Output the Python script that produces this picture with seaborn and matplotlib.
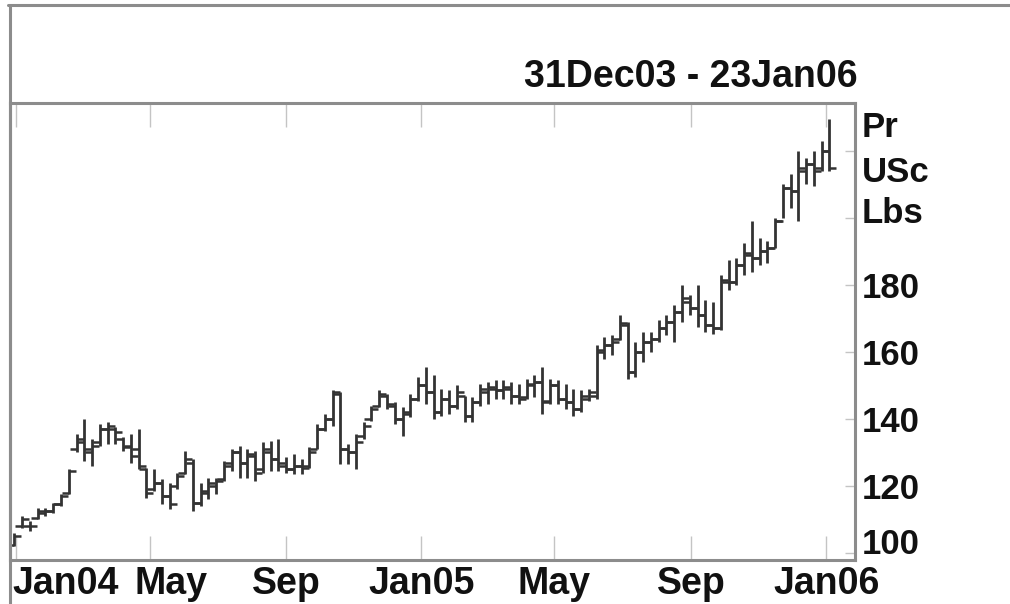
import pandas as pd
import matplotlib
matplotlib.use("Agg")
import matplotlib.pyplot as plt
import matplotlib.dates as mdates
from matplotlib.lines import Line2D
import matplotlib.markers as mmarkers
import seaborn as sns

# --- Datos semanales ---
fechas = pd.date_range("2003-12-31", periods=106, freq="7D")

maximos = [106, 111, 109.5, 113.5, 113.5, 115, 117.5, 125, 135.5, 140,
           134, 138.5, 139, 137.5, 134.5, 135.5, 137, 125.5, 125, 122,
           121, 124, 130.5, 128, 121, 122.5, 122.5, 127.5, 131, 132,
           131, 130.5, 133, 133.5, 134, 128.5, 129.5, 128, 131.5, 138.5,
           141.5, 148.5, 148, 132.5, 135.5, 139, 144, 148.5, 147.5, 145,
           143.5, 147.5, 152.5, 155.5, 153, 149, 148.5, 150, 147, 146.5,
           150.5, 151, 151.5, 151.5, 151, 150.5, 152, 153, 155.5, 152,
           151.5, 150.5, 149, 148.5, 149, 162, 164.5, 165, 171, 169,
           163, 166, 166, 169.5, 171, 174, 180, 177, 180, 175.5,
           175, 183, 187.5, 188, 192.5, 199, 194, 193, 200, 210,
           213, 220, 218, 220, 223, 229.5]
minimos = [102, 107.5, 106.5, 110, 111, 112, 114, 117.5, 130, 127.5,
           126, 132, 132.5, 132.5, 130.5, 127, 125, 116.5, 118.5, 114.5,
           113, 119, 123.5, 112.5, 114, 116, 117.5, 121.5, 124.5, 122.5,
           122.5, 121.5, 124, 124.5, 124.5, 124, 123.5, 123.5, 125.5, 131,
           136.5, 138, 126.5, 126.5, 125, 134, 139.5, 143.5, 143, 138.5,
           135, 140.5, 145.5, 144.5, 140, 141, 141.5, 143, 139, 139,
           144, 144.5, 146, 146, 144.5, 144.5, 146, 146.5, 141.5, 144.5,
           144.5, 143, 141, 142, 145.5, 146, 158, 159, 163.5, 152,
           152.5, 157, 160, 163, 165, 163, 169, 171, 167.5, 166,
           165.5, 166.5, 178.5, 180, 183, 184, 186, 186.5, 191, 200,
           203, 199, 210, 209.5, 214, 214]
aperturas = [102.5, 108, 108, 110.5, 112, 112.5, 114.5, 118, 131, 134,
             130, 133, 137, 137, 134, 132, 131, 125, 119, 121,
             117, 120, 124, 127, 115, 118, 120, 122, 127, 130,
             127, 129, 125, 130, 128, 126, 125, 126, 126, 131,
             137, 140, 147.5, 131, 130, 135, 140, 144, 147, 144,
             140, 142, 146, 150, 148, 142, 146, 144, 147, 141,
             145, 148, 149, 148.5, 149, 147, 146.5, 150, 151, 145.5,
             150, 146, 145, 143, 146, 147, 160, 162, 164, 168,
             154, 160, 163, 164, 167, 169, 172, 175, 173, 171,
             168, 167, 181, 181, 186, 189, 188, 190, 191, 199,
             209, 208, 214, 216, 215, 220]
cierres = [105, 110, 108, 112.5, 112.5, 114.5, 117, 124.5, 133, 131,
           132, 137, 138, 136, 131.5, 129, 126, 118, 121, 117,
           114.5, 123, 128, 115, 118.5, 121, 121.5, 126, 130, 127,
           129.5, 124, 131, 128, 127, 125, 126, 125.5, 130, 137,
           140, 148, 131, 130, 133, 138, 143, 147.5, 144.5, 140,
           141.5, 146, 150, 148, 142, 146, 144, 148, 141, 145,
           149, 149.5, 148.5, 149.5, 147, 146, 150.5, 151, 145, 150,
           146, 145, 143, 147, 148, 160.5, 162, 163, 168.5, 154,
           160, 163, 164, 167, 169, 172, 176, 173, 171, 168,
           167, 181.5, 181, 186, 189.5, 188, 190, 191, 199, 209,
           208, 215, 216, 214, 220, 215]

df = pd.DataFrame({"fecha": fechas, "max": maximos, "min": minimos,
                   "apertura": aperturas, "cierre": cierres})

meses_pos = pd.to_datetime(["2004-01-01", "2004-05-01", "2004-09-01", "2005-01-01",
                            "2005-05-01", "2005-09-01", "2006-01-01"])
meses_lab = ["Jan04", "May", "Sep", "Jan05", "May", "Sep", "Jan06"]
precios = [100, 120, 140, 160, 180, 200, 220]
precios_lab = ["100", "120", "140", "160", "180", "", ""]

# --- Estilo ---
sns.set_style("white")
plt.rcParams["font.family"] = ["Liberation Sans", "DejaVu Sans"]
plt.rcParams["font.weight"] = "bold"

gris = "#8c8c8c"
barra = "#333333"

fig = plt.figure(figsize=(10.1, 6.04), dpi=100)
ax = fig.add_axes([0.0099, 0.0728, 0.8366, 0.7567])

# --- Barras OHLC ---
ax.vlines(df["fecha"], df["min"], df["max"], color=barra, linewidth=2.0)
sns.scatterplot(data=df, x="fecha", y="apertura", marker=mmarkers.TICKLEFT,
                s=25, color=barra, linewidth=1.8, ax=ax, legend=False)
sns.scatterplot(data=df, x="fecha", y="cierre", marker=mmarkers.TICKRIGHT,
                s=25, color=barra, linewidth=1.8, ax=ax, legend=False)

ax.set_xlim(pd.Timestamp("2003-12-27"), pd.Timestamp("2006-01-27"))
ax.set_ylim(97.9, 234.3)
ax.set_xlabel("")
ax.set_ylabel("")

for s in ax.spines.values():
    s.set_color(gris)
    s.set_linewidth(2.2)

ax.set_xticks(meses_pos)
ax.tick_params(axis="x", direction="in", top=True, bottom=True, length=17,
               width=1, color="#c4c4c4", labelbottom=False)
ax.yaxis.tick_right()
ax.set_yticks(precios)
ax.set_yticklabels([""] + precios_lab[1:])
ax.tick_params(axis="y", direction="in", right=True, left=False, length=7,
               width=1, color="#c4c4c4", pad=5, labelsize=25, labelcolor="#111111")

# la etiqueta 100 va algo mas arriba que su marca
ax.annotate(precios_lab[0], xy=(1, precios[0]), xycoords=ax.get_yaxis_transform(),
            xytext=(5, 6), textcoords="offset points", ha="left", va="center",
            fontsize=25, color="#111111")

# etiquetas de meses
for i, (fx, lab) in enumerate(zip(meses_pos, meses_lab)):
    dx, ha = 0, "center"
    if i == 0:
        dx, ha = -2, "left"
    elif i == 1:
        dx = 15
    ax.annotate(lab, xy=(mdates.date2num(fx), 0), xycoords=ax.get_xaxis_transform(),
                xytext=(dx, -17), textcoords="offset points",
                ha=ha, va="center", fontsize=27, color="#111111")

# unidades
for lab, yv in [("Pr", 226.9), ("USc", 213.7), ("Lbs", 201.2)]:
    ax.text(1.008, yv, lab, transform=ax.get_yaxis_transform(),
            ha="left", va="center", fontsize=25, color="#111111")

# rango de fechas
fig.text(0.849, 0.8725, "31Dec03 - 23Jan06", ha="right", va="center",
         fontsize=27, color="#111111")

# marco exterior
fig.add_artist(Line2D([0.008, 1.0], [0.9917, 0.9917], transform=fig.transFigure,
                      color=gris, linewidth=2.2))
fig.add_artist(Line2D([0.0099, 0.0099], [0.0, 0.9917], transform=fig.transFigure,
                      color=gris, linewidth=2.2))

plt.savefig("out.png", dpi=100)
